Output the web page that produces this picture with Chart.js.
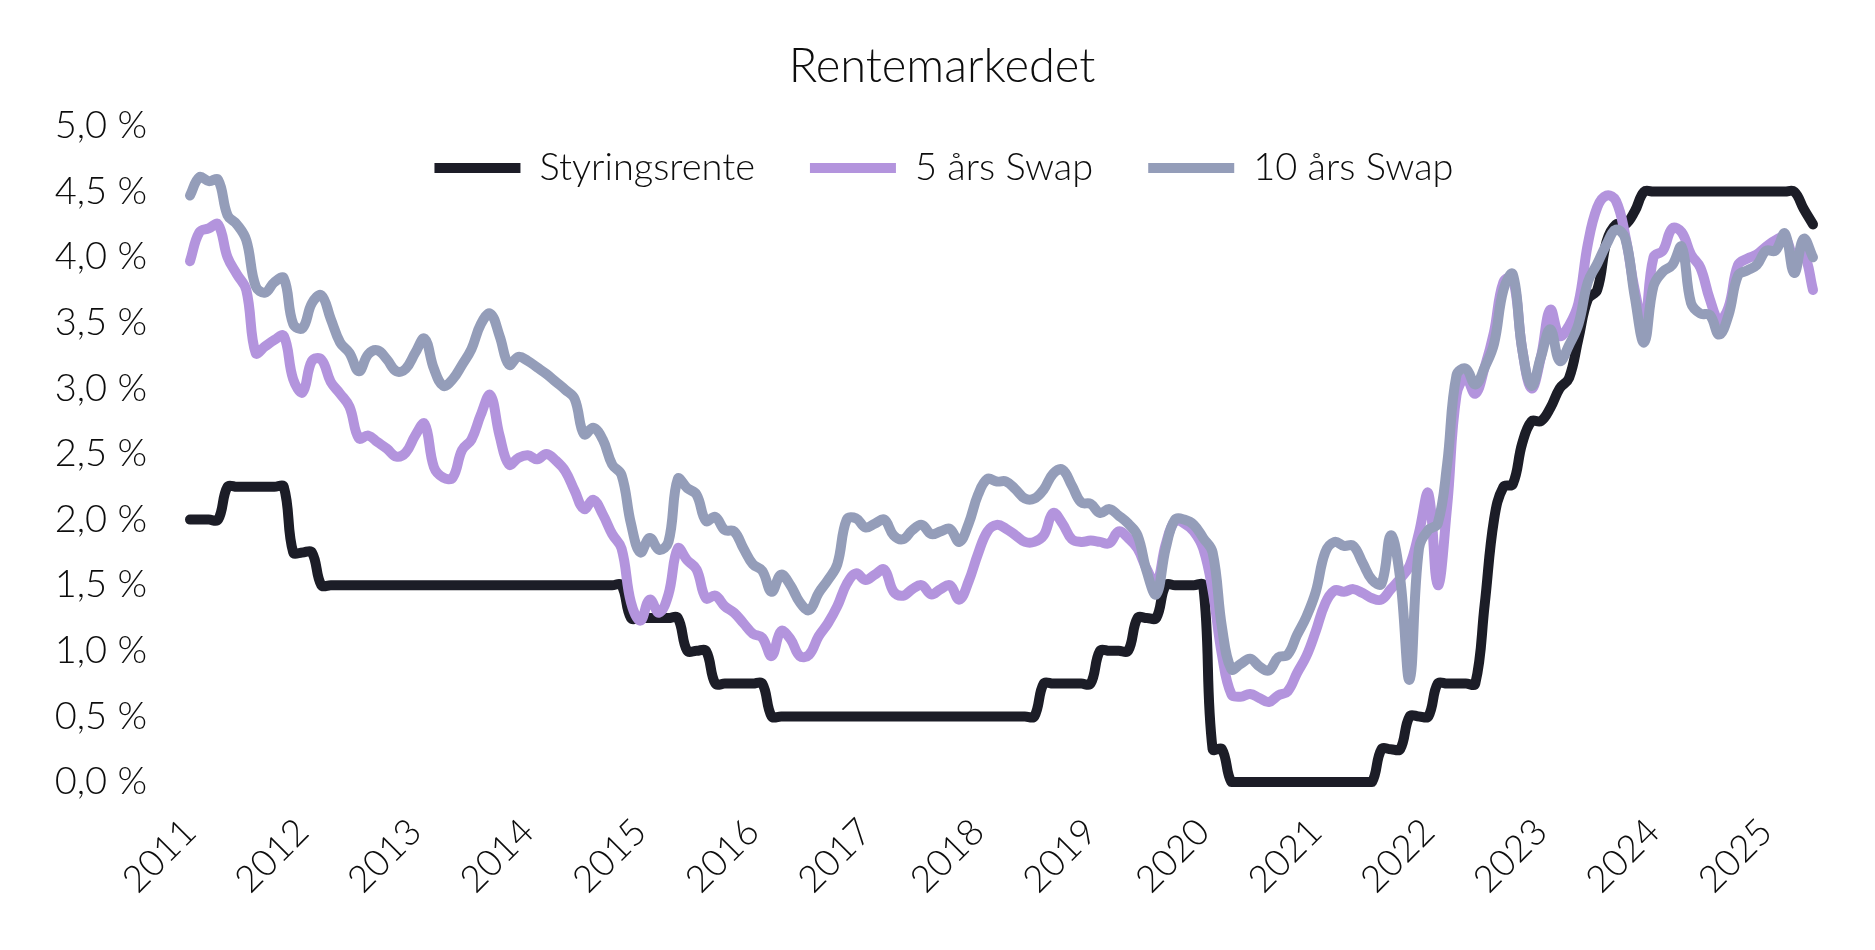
<!DOCTYPE html>
<html>
<head>
<meta charset="utf-8">
<script src="https://cdn.jsdelivr.net/npm/chart.js@4.4.1/dist/chart.umd.min.js"></script>
<style>
  html, body { margin: 0; padding: 0; background: #fff; }
</style>
</head>
<body>
<canvas id="renteChart" width="1875" height="950"></canvas>
<script>
// monthly points, Jan 2011 - Jun 2025
var startYear = 2011;
var years = ['2011', '2012', '2013', '2014', '2015', '2016', '2017', '2018',
             '2019', '2020', '2021', '2022', '2023', '2024', '2025'];

var styringsrente = [
  2.00, 2.00, 2.00, 2.00, 2.25, 2.25, 2.25, 2.25, 2.25, 2.25,
  2.25, 1.75, 1.75, 1.75, 1.50, 1.50, 1.50, 1.50, 1.50, 1.50,
  1.50, 1.50, 1.50, 1.50, 1.50, 1.50, 1.50, 1.50, 1.50, 1.50,
  1.50, 1.50, 1.50, 1.50, 1.50, 1.50, 1.50, 1.50, 1.50, 1.50,
  1.50, 1.50, 1.50, 1.50, 1.50, 1.50, 1.50, 1.25, 1.25, 1.25,
  1.25, 1.25, 1.25, 1.00, 1.00, 1.00, 0.75, 0.75, 0.75, 0.75,
  0.75, 0.75, 0.50, 0.50, 0.50, 0.50, 0.50, 0.50, 0.50, 0.50,
  0.50, 0.50, 0.50, 0.50, 0.50, 0.50, 0.50, 0.50, 0.50, 0.50,
  0.50, 0.50, 0.50, 0.50, 0.50, 0.50, 0.50, 0.50, 0.50, 0.50,
  0.50, 0.75, 0.75, 0.75, 0.75, 0.75, 0.75, 1.00, 1.00, 1.00,
  1.00, 1.25, 1.25, 1.25, 1.50, 1.50, 1.50, 1.50, 1.50, 0.25,
  0.25, 0.00, 0.00, 0.00, 0.00, 0.00, 0.00, 0.00, 0.00, 0.00,
  0.00, 0.00, 0.00, 0.00, 0.00, 0.00, 0.00, 0.25, 0.25, 0.25,
  0.50, 0.50, 0.50, 0.75, 0.75, 0.75, 0.75, 0.75, 1.35, 2.00,
  2.25, 2.27, 2.58, 2.75, 2.75, 2.85, 3.00, 3.08, 3.38, 3.68,
  3.75, 4.12, 4.25, 4.25, 4.35, 4.50, 4.50, 4.50, 4.50, 4.50,
  4.50, 4.50, 4.50, 4.50, 4.50, 4.50, 4.50, 4.50, 4.50, 4.50,
  4.50, 4.50, 4.37, 4.25
];

var swap5 = [
  3.97, 4.19, 4.22, 4.25, 4.00, 3.87, 3.75, 3.27, 3.32, 3.37,
  3.40, 3.07, 2.97, 3.21, 3.22, 3.05, 2.96, 2.86, 2.62, 2.64,
  2.59, 2.54, 2.48, 2.51, 2.64, 2.73, 2.40, 2.32, 2.32, 2.53,
  2.61, 2.80, 2.95, 2.64, 2.42, 2.47, 2.49, 2.46, 2.50, 2.45,
  2.37, 2.22, 2.08, 2.15, 2.04, 1.89, 1.78, 1.37, 1.23, 1.39,
  1.29, 1.43, 1.78, 1.69, 1.62, 1.40, 1.42, 1.34, 1.29, 1.21,
  1.13, 1.10, 0.96, 1.15, 1.09, 0.96, 0.97, 1.11, 1.21, 1.34,
  1.51, 1.59, 1.54, 1.58, 1.62, 1.45, 1.42, 1.47, 1.50, 1.43,
  1.47, 1.50, 1.39, 1.53, 1.74, 1.91, 1.96, 1.93, 1.88, 1.83,
  1.83, 1.88, 2.05, 1.97, 1.85, 1.83, 1.84, 1.83, 1.82, 1.91,
  1.86, 1.78, 1.62, 1.51, 1.81, 1.99, 1.97, 1.91, 1.78, 1.46,
  0.97, 0.67, 0.65, 0.67, 0.64, 0.61, 0.66, 0.69, 0.83, 0.96,
  1.15, 1.36, 1.46, 1.45, 1.47, 1.44, 1.40, 1.39, 1.47, 1.55,
  1.65, 1.90, 2.20, 1.50, 2.10, 2.95, 3.08, 2.96, 3.16, 3.43,
  3.81, 3.84, 3.30, 3.00, 3.24, 3.60, 3.40, 3.48, 3.65, 4.10,
  4.38, 4.47, 4.43, 4.16, 3.75, 3.49, 4.00, 4.05, 4.22, 4.19,
  4.02, 3.92, 3.68, 3.52, 3.62, 3.94, 3.99, 4.02, 4.08, 4.13,
  4.15, 4.00, 4.03, 3.75
];

var swap10 = [
  4.47, 4.61, 4.58, 4.59, 4.32, 4.25, 4.13, 3.78, 3.73, 3.81,
  3.84, 3.49, 3.46, 3.65, 3.71, 3.53, 3.35, 3.27, 3.13, 3.26,
  3.29, 3.22, 3.13, 3.15, 3.27, 3.38, 3.15, 3.02, 3.07, 3.18,
  3.30, 3.49, 3.57, 3.40, 3.18, 3.24, 3.21, 3.16, 3.11, 3.05,
  2.99, 2.92, 2.65, 2.70, 2.61, 2.42, 2.34, 1.97, 1.75, 1.86,
  1.77, 1.83, 2.31, 2.24, 2.19, 1.99, 2.02, 1.92, 1.91, 1.78,
  1.66, 1.61, 1.45, 1.58, 1.50, 1.37, 1.31, 1.44, 1.54, 1.66,
  2.00, 2.01, 1.94, 1.97, 2.00, 1.88, 1.85, 1.92, 1.96, 1.89,
  1.91, 1.93, 1.83, 1.97, 2.19, 2.31, 2.29, 2.29, 2.23, 2.16,
  2.16, 2.23, 2.35, 2.38, 2.26, 2.13, 2.12, 2.05, 2.08, 2.03,
  1.97, 1.88, 1.60, 1.43, 1.78, 2.00, 2.00, 1.96, 1.86, 1.75,
  1.18, 0.86, 0.90, 0.94, 0.88, 0.85, 0.95, 0.97, 1.12, 1.26,
  1.45, 1.75, 1.83, 1.80, 1.80, 1.67, 1.54, 1.51, 1.88, 1.55,
  0.78, 1.78, 1.92, 1.97, 2.42, 3.10, 3.15, 3.03, 3.16, 3.34,
  3.75, 3.87, 3.30, 3.02, 3.24, 3.45, 3.21, 3.33, 3.49, 3.81,
  3.95, 4.10, 4.21, 4.14, 3.70, 3.35, 3.78, 3.89, 3.94, 4.08,
  3.65, 3.57, 3.56, 3.41, 3.56, 3.86, 3.90, 3.94, 4.05, 4.05,
  4.18, 3.88, 4.14, 4.00
];

var months = styringsrente.map(function (v, i) {
  return (startYear + Math.floor(i / 12)) + '-' + String(i % 12 + 1).padStart(2, '0');
});

Chart.defaults.color = '#0d0d0d';
Chart.defaults.font.family = 'Lato';
Chart.defaults.font.weight = 400;

// legend takes no room (maxHeight 1) and is moved into the plot;
// title and legend are centred on the whole canvas like the Excel original
var legendPlace = {
  id: 'legendPlace',
  afterLayout: function (chart) {
    var lg = chart.legend;
    lg.left = 0;
    lg.right = 1888;
    lg.top = 94;
    lg.bottom = 94 + 120;
    lg.width = 1888;
    lg.height = 120;
    var tb = chart.titleBlock;
    tb.left = 0;
    tb.right = 1884;
    tb.width = 1884;
  }
};

function line(label, data, color, order) {
  return {
    label: label,
    data: data,
    borderColor: color,
    backgroundColor: color,
    borderWidth: 10,
    borderCapStyle: 'round',
    borderJoinStyle: 'round',
    pointRadius: 0,
    tension: 0.4,
    clip: false,
    order: order
  };
}

new Chart(document.getElementById('renteChart'), {
  type: 'line',
  data: {
    labels: months,
    datasets: [
      line('Styringsrente', styringsrente, '#1c1d27', 3),
      line('5 års Swap', swap5, '#b394dd', 2),
      line('10 års Swap', swap10, '#949db9', 1)
    ]
  },
  options: {
    responsive: false,
    animation: false,
    layout: { padding: { left: 0, right: 62, top: 0, bottom: 0 } },
    plugins: {
      title: {
        display: true,
        text: 'Rentemarkedet',
        font: { size: 47, weight: 300 },
        padding: { top: 39, bottom: 29.6 }
      },
      legend: {
        position: 'top',
        maxHeight: 1,
        labels: {
          font: { size: 38, weight: 300 },
          usePointStyle: true,
          pointStyle: 'line',
          pointStyleWidth: 86,
          padding: 55,
          sort: function (a, b) { return a.datasetIndex - b.datasetIndex; }
        }
      },
      tooltip: { enabled: false }
    },
    scales: {
      x: {
        grid: { display: false },
        border: { display: false },
        afterFit: function (scale) { scale.height = 168; },
        ticks: {
          autoSkip: false,
          minRotation: 45,
          maxRotation: 45,
          padding: 20,
          font: { size: 37, weight: 300 },
          callback: function (v, i) {
            return i % 12 === 0 ? years[i / 12] : '';
          }
        }
      },
      y: {
        min: 0,
        max: 5,
        grid: { display: false },
        border: { display: false },
        afterFit: function (scale) { scale.width = 190; },
        ticks: {
          stepSize: 0.5,
          padding: 35,
          font: { size: 38, weight: 300 },
          callback: function (v) { return v.toFixed(1).replace('.', ',') + ' %'; }
        }
      }
    }
  },
  plugins: [legendPlace]
});
</script>
</body>
</html>
